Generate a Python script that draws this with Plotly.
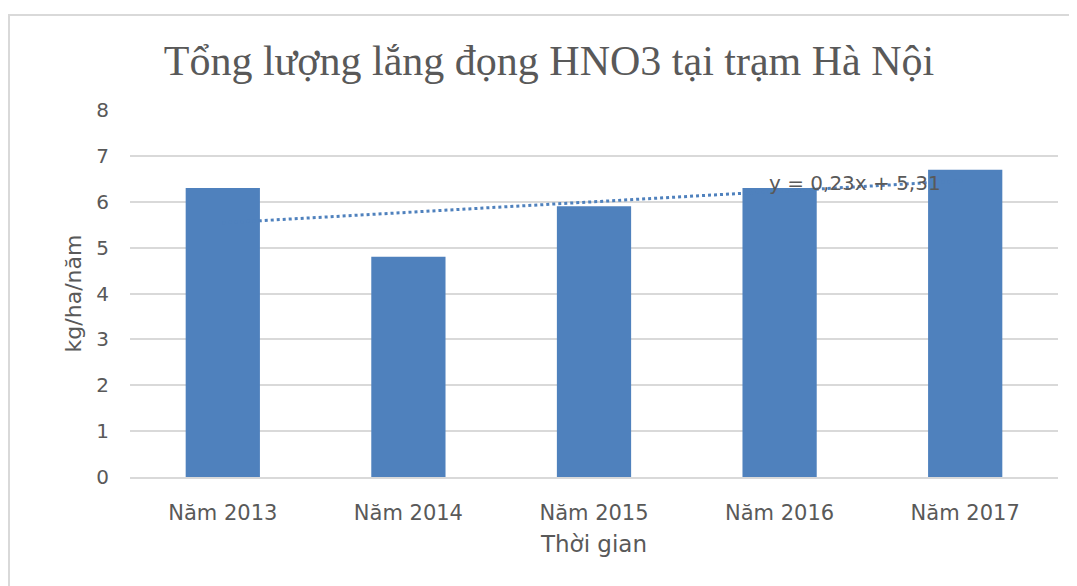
import numpy as np
import plotly.graph_objects as go

categories = ["Năm 2013", "Năm 2014", "Năm 2015", "Năm 2016", "Năm 2017"]
values = [6.3, 4.8, 5.9, 6.3, 6.7]
y_ticks = [0, 1, 2, 3, 4, 5, 6, 7, 8]
title_text = "Tổng lượng lắng đọng HNO3 tại trạm Hà Nội"
x_title = "Thời gian"
y_title = "kg/ha/năm"

# linear trendline from the bar values
idx = np.arange(1, len(values) + 1)
slope, intercept = np.polyfit(idx, values, 1)
trend = slope * idx + intercept
eq_text = "y = {:.2f}x + {:.2f}".format(slope, intercept).replace(".", ",")

GRAY = "#595959"
BLUE = "#4F81BD"
TICKFONT = "DejaVu Sans"

fig = go.Figure()
fig.add_trace(go.Scatter(
    x=categories, y=trend, mode="lines",
    line=dict(color=BLUE, width=3, dash="dot"),
    hoverinfo="skip", showlegend=False,
))
fig.add_trace(go.Bar(
    x=categories, y=values, marker=dict(color=BLUE, line=dict(width=0)),
    showlegend=False,
))

W, H = 1069, 578
fig.update_layout(
    width=W, height=H,
    paper_bgcolor="white", plot_bgcolor="white",
    margin=dict(l=122, r=19, t=102, b=109, autoexpand=False),
    bargap=0.6,
    title=dict(text=title_text, x=541 / W, xref="container", xanchor="center",
               y=1 - 52 / H, yanchor="middle", yref="container",
               font=dict(family="Liberation Serif", size=42, color=GRAY)),
    xaxis=dict(
        type="category", showgrid=False, showline=True, linecolor="#d9d9d9", linewidth=2,
        ticks="", tickfont=dict(family=TICKFONT, size=21, color=GRAY),
        ticklabelstandoff=16, automargin=False,
        title=dict(text=x_title, font=dict(family=TICKFONT, size=23, color=GRAY), standoff=12),
    ),
    yaxis=dict(
        range=[0, 8], tickvals=y_ticks, showgrid=True, gridcolor="#d9d9d9", gridwidth=2,
        zeroline=False, showline=False, ticks="", automargin=False,
        tickfont=dict(family=TICKFONT, size=20, color=GRAY), ticklabelstandoff=20,
        title=dict(text=y_title, font=dict(family=TICKFONT, size=22, color=GRAY), standoff=8),
    ),
    annotations=[dict(
        x=2.93, y=6.4, xref="x", yref="y", text=eq_text, showarrow=False,
        xanchor="left", yanchor="middle",
        font=dict(family=TICKFONT, size=20, color=GRAY),
    )],
    shapes=[dict(
        type="rect", xref="paper", yref="paper",
        x0=-0.1304, x1=1.06, y0=-0.31, y1=1.2589,
        line=dict(color="#d9d9d9", width=2), fillcolor="rgba(0,0,0,0)", layer="below",
    )],
)

fig.write_html("out.html")
